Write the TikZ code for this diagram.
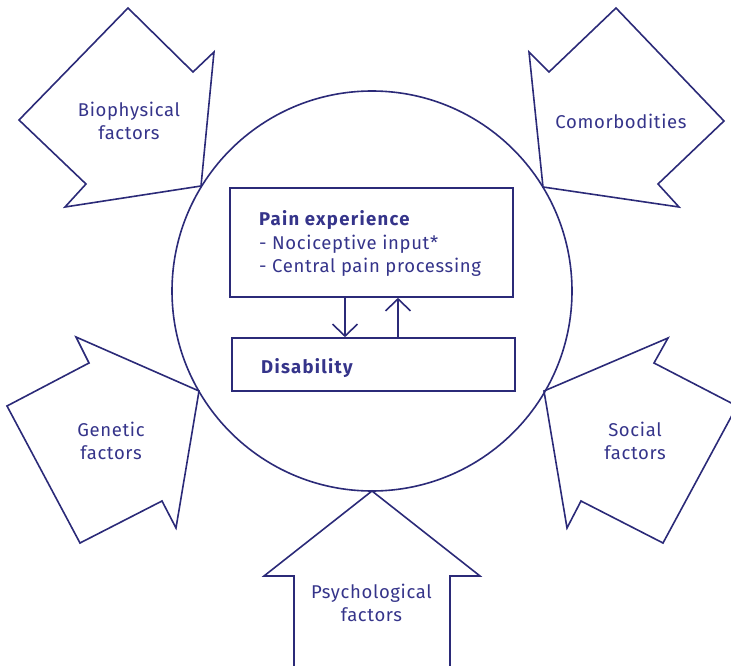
\documentclass[tikz,border=0pt]{standalone}
\usepackage{fontspec}
\setmainfont{Fira Sans}[LetterSpace=3.5,BoldFeatures={LetterSpace=7}]
\usetikzlibrary{arrows.meta}
\definecolor{navy}{HTML}{2B2A78}
\definecolor{inknavy}{HTML}{35348A}
\begin{document}
\begin{tikzpicture}[x=1pt,y=-1pt,line join=miter,
  outline/.style={draw=navy,line width=1.6pt},
  box/.style={outline,rectangle,inner sep=0pt},
  lbl/.style={text=inknavy,align=center,inner sep=0pt,font=\fontsize{18.5}{23.5}\selectfont},
  boxtxt/.style={text=inknavy,inner sep=0pt,anchor=base west,font=\fontsize{18.5}{23.5}\selectfont},
  flow/.style={draw=navy,line width=1.6pt,-{Straight Barb[length=12pt,width=25pt,line width=1.6pt]}}]
\useasboundingbox (0,0) rectangle (731,666);
\clip (0,0) rectangle (731,666);

% central circle
\draw[outline] (372,291) circle[radius=200pt];

% outer factor arrows pointing at the circle
\draw[outline] (19,120) -- (128,8) -- (193,72) -- (214,52) -- (201,186) -- (65,207) -- (86,184) -- cycle;
\draw[outline] (724,121) -- (616,8) -- (549,72) -- (529,52) -- (543,187) -- (679,207) -- (658,184) -- cycle;
\draw[outline] (199,391) -- (76,337) -- (89,363) -- (7,406) -- (80,543) -- (162,501) -- (176,528) -- cycle;
\draw[outline] (544,391) -- (668,338) -- (654,363) -- (737,406) -- (663,543) -- (581,501) -- (567,528) -- cycle;
\draw[outline] (372,491) -- (480,576) -- (450,576) -- (450,680) -- (294,680) -- (294,576) -- (264,576) -- cycle;

% factor labels
\node[lbl] (bio)    at (129,121) {Biophysical\\factors};
\node[lbl] (comorb) at (621,121) {Comorbodities};
\node[lbl] (gen)    at (111,441) {Genetic\\factors};
\node[lbl] (soc)    at (635,441) {Social\\factors};
\node[lbl] (psy)    at (371.5,603) {Psychological\\factors};

% inner boxes
\node[box,minimum width=283pt,minimum height=109pt] (pain) at (371.5,242.5) {};
\node[box,minimum width=283pt,minimum height=53pt] (dis) at (373.5,364.5) {};

\node[boxtxt,font=\fontsize{18.5}{23.5}\selectfont\bfseries] (paintitle) at (259,225) {Pain experience};
\node[boxtxt] (noci) at (259,249) {- Nociceptive input*};
\node[boxtxt] (central) at (259,272) {- Central pain processing};
\node[boxtxt,font=\fontsize{18.5}{23.5}\selectfont\bfseries] (distitle) at (261,373) {Disability};

% feedback arrows between the boxes
\coordinate (dn) at (345,0);
\coordinate (up) at (398,0);
\draw[flow] (pain.south -| dn) -- (dis.north -| dn);
\draw[flow] (dis.north -| up) -- (pain.south -| up);
\end{tikzpicture}
\end{document}
